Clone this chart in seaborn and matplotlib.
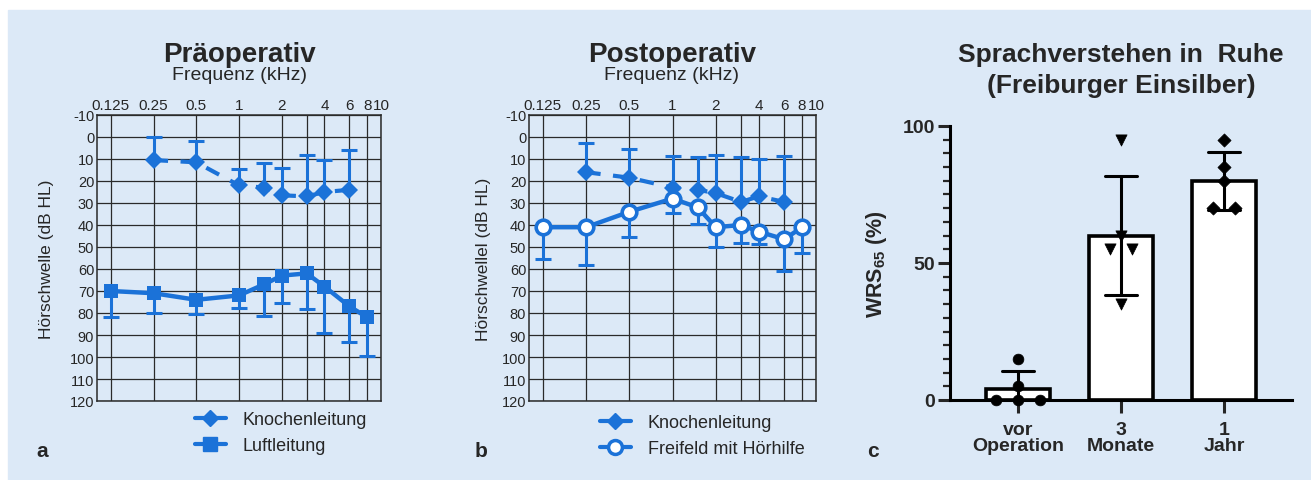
import numpy as np
import pandas as pd
import seaborn as sns
import matplotlib

matplotlib.use("Agg")
import matplotlib.pyplot as plt
from matplotlib.lines import Line2D
from matplotlib.patches import Rectangle
from matplotlib.ticker import NullFormatter, MultipleLocator

sns.set_style("white")
plt.rcParams["font.family"] = ["Liberation Sans", "DejaVu Sans"]
plt.rcParams["mathtext.fontset"] = "custom"
plt.rcParams["mathtext.rm"] = "Liberation Sans"
plt.rcParams["mathtext.bf"] = "Liberation Sans:bold"
plt.rcParams["axes.unicode_minus"] = False

BLUE = "#1b72d8"
BG = "#dce9f7"

# audiogram data: frequency in kHz, threshold in dB HL, sd drawn one-sided
freq_kl = [0.25, 0.5, 1, 1.5, 2, 3, 4, 6]
freq_ll = [0.125, 0.25, 0.5, 1, 1.5, 2, 3, 4, 6, 8]

pre_kl = [10.5, 11.5, 22, 23, 26.5, 27, 25, 24]
pre_kl_sd = [10.5, 9.5, 7.5, 11, 12.5, 19, 14.5, 18]
pre_ll = [70, 71, 74, 72, 67, 63, 62, 68, 77, 82]
pre_ll_sd = [12, 9, 6.5, 5.5, 14.5, 12.5, 16, 21, 16, 17.5]

post_kl = [16, 18.5, 23, 24, 25.5, 29.5, 27, 29.5]
post_kl_sd = [13.5, 13, 14.5, 15, 17.5, 20.5, 17, 21]
post_ff = [41, 41, 34, 28, 32, 41, 40, 43, 46.5, 41]
post_ff_sd = [14.5, 17, 11.5, 6.5, 7.5, 9, 8, 5.5, 14.5, 11.5]

tick_freqs = [0.125, 0.25, 0.5, 1, 2, 4, 6, 8, 10]
tick_labels = ["0.125", "0.25", "0.5", "1", "2", "4", "6", "8", "10"]

# speech understanding (Freiburger Einsilber), WRS65 in %
groups = ["vor\nOperation", "3\nMonate", "1\nJahr"]
wrs_vor = [0, 0, 0, 5, 15]
wrs_3m = [35, 55, 55, 60, 95]
wrs_1j = [70, 70, 80, 85, 95]

W, H = 1311, 481


def fx(px):
    return px / W


def fy(px):
    return 1 - px / H


def whiskers(ax, x, y, sd, direction):
    y = np.asarray(y, float)
    end = y + direction * np.asarray(sd, float)
    ax.vlines(x, y, end, color=BLUE, lw=2.2, zorder=3)
    ax.plot(x, end, ls="none", marker="_", ms=12, mew=2.2, color=BLUE, zorder=3)


def audiogram(ax, ylabel, label_x):
    ax.set_facecolor("none")
    ax.set_xscale("log")
    ax.set_xlim(0.1, 10)
    ax.set_ylim(120, -10)
    ax.set_xticks(tick_freqs)
    ax.set_xticklabels(tick_labels)
    ax.set_xticks([3], minor=True)
    ax.xaxis.set_minor_formatter(NullFormatter())
    ax.set_yticks(range(-10, 121, 10))
    ax.xaxis.tick_top()
    ax.tick_params(axis="x", which="both", length=0, labelsize=11, pad=2)
    ax.tick_params(axis="y", which="both", length=0, labelsize=10.5, pad=2)
    ax.grid(True, which="both", color="#2a2a2a", lw=0.9)
    ax.set_axisbelow(True)
    for s in ax.spines.values():
        s.set_color("#2a2a2a")
        s.set_linewidth(1.1)
    ax.set_xlabel("")
    ax.set_ylabel(ylabel, fontsize=12.5)
    ax.yaxis.set_label_coords(label_x, 0.5)


def spread(vals, step=0.21):
    v = np.asarray(vals)
    offs = np.zeros(len(v))
    for u in np.unique(v):
        idx = np.where(v == u)[0]
        offs[idx] = (np.arange(len(idx)) - (len(idx) - 1) / 2) * step
    return offs


fig = plt.figure(figsize=(W / 100, H / 100), dpi=100, facecolor="white")
fig.patches.append(Rectangle((fx(8), 0), 1 - fx(8), fy(11), transform=fig.transFigure,
                             color=BG, zorder=-10))

ax_a = fig.add_axes([fx(97), fy(402), fx(284), 286 / H])
ax_b = fig.add_axes([fx(529), fy(402), fx(287), 286 / H])
ax_c = fig.add_axes([fx(950), fy(401), fx(342), 274 / H])

# --- a: Präoperativ ---
ax_a.set_xscale("log")
whiskers(ax_a, freq_kl, pre_kl, pre_kl_sd, -1)
whiskers(ax_a, freq_ll, pre_ll, pre_ll_sd, 1)
sns.lineplot(x=freq_kl, y=pre_kl, ax=ax_a, color=BLUE, lw=3, ls=(0, (3.5, 3)),
             marker="D", ms=8.7, mec=BLUE, mfc=BLUE, mew=0, errorbar=None, zorder=4)
sns.lineplot(x=freq_ll, y=pre_ll, ax=ax_a, color=BLUE, lw=3.2,
             marker="s", ms=10, mec=BLUE, mfc=BLUE, mew=0, errorbar=None, zorder=4)
audiogram(ax_a, "Hörschwelle (dB HL)", -0.151)

# --- b: Postoperativ ---
ax_b.set_xscale("log")
whiskers(ax_b, freq_kl, post_kl, post_kl_sd, -1)
whiskers(ax_b, freq_ll, post_ff, post_ff_sd, 1)
sns.lineplot(x=freq_kl, y=post_kl, ax=ax_b, color=BLUE, lw=3, ls=(0, (3.5, 3)),
             marker="D", ms=8.7, mec=BLUE, mfc=BLUE, mew=0, errorbar=None, zorder=4)
sns.lineplot(x=freq_ll, y=post_ff, ax=ax_b, color=BLUE, lw=3.2,
             marker="o", ms=10.5, mec=BLUE, mfc="white", mew=2.6, errorbar=None, zorder=5)
audiogram(ax_b, "Hörschwellel (dB HL)", -0.132)

fig.text(fx(239), fy(62), "Präoperativ", ha="center", va="baseline", fontsize=20, fontweight="bold")
fig.text(fx(239), fy(80), "Frequenz (kHz)", ha="center", va="baseline", fontsize=14)
fig.text(fx(672), fy(62), "Postoperativ", ha="center", va="baseline", fontsize=20, fontweight="bold")
fig.text(fx(672), fy(80), "Frequenz (kHz)", ha="center", va="baseline", fontsize=14)

h_kl = Line2D([], [], color=BLUE, lw=3, marker="D", ms=8.5, mec=BLUE, mfc=BLUE)
h_ll = Line2D([], [], color=BLUE, lw=3, marker="s", ms=10, mec=BLUE, mfc=BLUE)
h_ff = Line2D([], [], color=BLUE, lw=3, marker="o", ms=10, mec=BLUE, mfc="white", mew=2.5)
leg_kw = dict(loc="upper left", frameon=False, fontsize=13, handlelength=1.7,
              handletextpad=0.95, labelspacing=0.5, borderpad=0, borderaxespad=0)
fig.legend([h_kl, h_ll], ["Knochenleitung", "Luftleitung"],
           bbox_to_anchor=(fx(195), fy(412)), **leg_kw)
fig.legend([h_kl, h_ff], ["Knochenleitung", "Freifeld mit Hörhilfe"],
           bbox_to_anchor=(fx(600), fy(415)), **leg_kw)

# --- c: Sprachverstehen ---
df = pd.DataFrame({"Zeitpunkt": np.repeat(groups, 5), "WRS": wrs_vor + wrs_3m + wrs_1j})
sns.barplot(data=df, x="Zeitpunkt", y="WRS", order=groups, errorbar="sd", capsize=0.32,
            width=0.63, color="white", saturation=1, edgecolor="black", linewidth=2.6,
            err_kws={"color": "black", "linewidth": 2.2}, ax=ax_c)
for i, (vals, m, s) in enumerate(zip([wrs_vor, wrs_3m, wrs_1j], ["o", "v", "D"], [60, 65, 45])):
    sns.scatterplot(x=i + spread(vals), y=vals, marker=m, s=s, color="black",
                    edgecolor="black", linewidth=0.5, ax=ax_c, zorder=5, clip_on=False,
                    legend=False)
ax_c.set_facecolor("none")
ax_c.set_xlim(-0.66, 2.66)
ax_c.set_ylim(0, 100)
ax_c.set_yticks([0, 50, 100])
ax_c.yaxis.set_minor_locator(MultipleLocator(5))
ax_c.set_xticks([0, 1, 2])
ax_c.set_xticklabels(groups, fontweight="bold", fontsize=14, linespacing=0.95)
for t in ax_c.get_yticklabels():
    t.set_fontweight("bold")
    t.set_fontsize(14)
ax_c.tick_params(axis="y", which="major", direction="out", length=8.5, width=2.2, pad=2, left=True)
ax_c.tick_params(axis="y", which="minor", direction="out", length=5, width=1.6, left=True)
ax_c.tick_params(axis="x", which="major", direction="out", length=9, width=2.2, pad=6, bottom=True)
for side in ["top", "right"]:
    ax_c.spines[side].set_visible(False)
for side in ["left", "bottom"]:
    ax_c.spines[side].set_color("black")
    ax_c.spines[side].set_linewidth(2.2)
ax_c.set_xlabel("")
ax_c.set_ylabel(r"WRS$_\mathbf{65}$ (%)", fontweight="bold", fontsize=15.5)
ax_c.yaxis.set_label_coords(-0.178, 0.5)

fig.text(fx(1121), fy(62), "Sprachverstehen in  Ruhe", ha="center", va="baseline",
         fontsize=19, fontweight="bold")
fig.text(fx(1121), fy(93), "(Freiburger Einsilber)", ha="center", va="baseline",
         fontsize=19, fontweight="bold")

for lab, x in [("a", 42), ("b", 481), ("c", 873)]:
    fig.text(fx(x), fy(457), lab, ha="center", va="baseline", fontsize=15, fontweight="bold")

fig.savefig("out.png", dpi=100, facecolor=fig.get_facecolor())
